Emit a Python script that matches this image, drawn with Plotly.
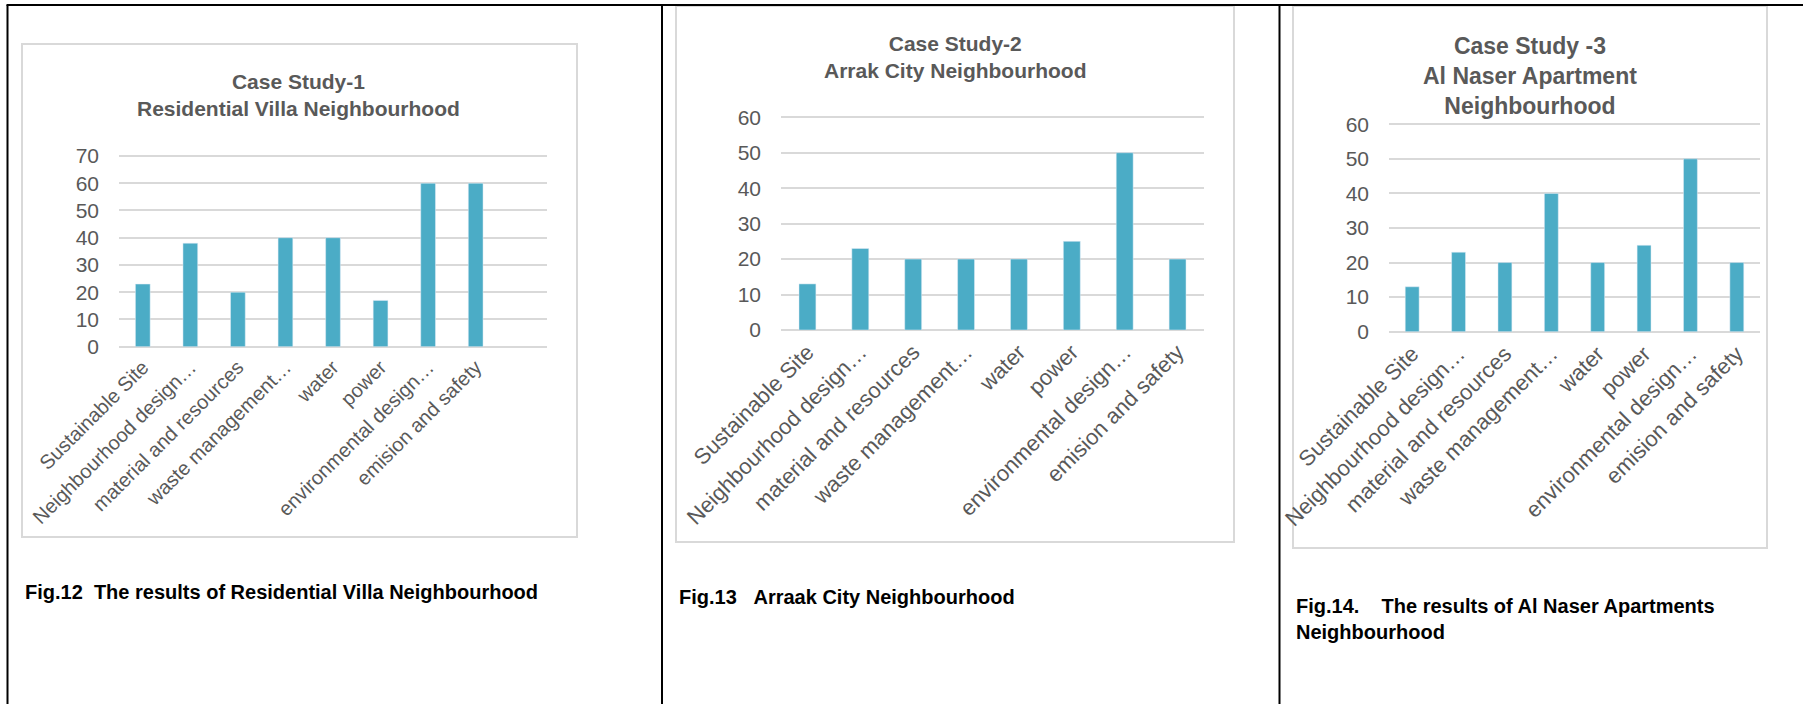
import plotly.graph_objects as go

W, H = 1803, 704

categories = ["Sustainable Site", "Neighbourhood design…", "material and resources",
              "waste management…", "water", "power", "environmental design…",
              "emision and safety"]
# case study 1 chart has an empty ninth slot
categories_cs1 = categories + [" "]

values_cs1 = [23, 38, 20, 40, 40, 17, 60, 60]
values_cs2 = [13, 23, 20, 20, 20, 25, 50, 20]
values_cs3 = [13, 23, 20, 40, 20, 25, 50, 20]

titles = ["Case Study-1<br>Residential Villa Neighbourhood",
          "Case Study-2<br>Arrak City Neighbourhood",
          "Case Study -3<br>Al Naser Apartment<br>Neighbourhood"]
captions = ["Fig.12\u00a0\u00a0The results of Residential Villa Neighbourhood",
            "Fig.13\u00a0\u00a0\u00a0Arraak City Neighbourhood",
            "Fig.14.\u00a0\u00a0\u00a0\u00a0The results of Al Naser Apartments<br>Neighbourhood"]

BAR = "#4bacc6"
GRID = "#d9d9d9"
TXT = "#595959"
FONT = "Liberation Sans"


def px(x):
    return x / W


def py(y):
    return 1 - y / H


fig = go.Figure()

fig.add_trace(go.Bar(x=categories, y=values_cs1, marker_color=BAR, width=0.31,
                     xaxis="x", yaxis="y", showlegend=False))
fig.add_trace(go.Bar(x=categories, y=values_cs2, marker_color=BAR, width=0.32,
                     xaxis="x2", yaxis="y2", showlegend=False))
fig.add_trace(go.Bar(x=categories, y=values_cs3, marker_color=BAR, width=0.30,
                     xaxis="x3", yaxis="y3", showlegend=False))


def xax(domain, n, size, arr, anchor):
    return dict(domain=domain, type="category", categoryorder="array", categoryarray=arr,
                range=[-0.5, n - 0.5], tickangle=-45, showgrid=False, zeroline=False,
                showline=False, ticks="", tickfont=dict(family=FONT, size=size, color=TXT),
                ticklabelstandoff=4,
                fixedrange=True, automargin=False, anchor=anchor)


HEAD = 0.6  # extra headroom (in data units) so the top gridline is drawn


def yax(y_bottom, y_top, top, anchor):
    ppu = (y_bottom - y_top) / top
    domain = [py(y_bottom), py(y_top - HEAD * ppu)]
    return dict(domain=domain, range=[0, top + HEAD], dtick=10, showgrid=True, gridcolor=GRID,
                gridwidth=1.5, zeroline=True, zerolinecolor=GRID, zerolinewidth=1.5,
                showline=False, ticks="", ticklabelstandoff=19, anchor=anchor,
                automargin=False, fixedrange=True,
                tickfont=dict(family=FONT, size=21, color=TXT))


fig.update_layout(
    width=W, height=H, margin=dict(l=0, r=0, t=0, b=0, autoexpand=False),
    paper_bgcolor="white", plot_bgcolor="white",
    xaxis=xax([px(119), px(547)], 9, 20, categories_cs1, "y"),
    yaxis=yax(346.7, 156, 70, "x"),
    xaxis2=xax([px(781), px(1204)], 8, 22, categories, "y2"),
    yaxis2=yax(330, 117.3, 60, "x2"),
    xaxis3=xax([px(1389), px(1760)], 8, 22, categories, "y3"),
    yaxis3=yax(331.7, 124.3, 60, "x3"),
)

shapes = []
# chart boxes
for (x0, y0, x1, y1) in [(22, 44, 577, 537), (676, 6, 1234, 542), (1293, 6, 1767, 548)]:
    shapes.append(dict(type="rect", xref="paper", yref="paper", x0=px(x0), x1=px(x1),
                       y0=py(y1), y1=py(y0), line=dict(color=GRID, width=2),
                       fillcolor="rgba(0,0,0,0)", layer="below"))
# table borders
shapes.append(dict(type="line", xref="paper", yref="paper", x0=px(6.5), x1=1, y0=py(5), y1=py(5),
                   line=dict(color="black", width=2)))
for xv in [7.5, 662, 1279.5]:
    shapes.append(dict(type="line", xref="paper", yref="paper", x0=px(xv), x1=px(xv),
                       y0=0, y1=py(5), line=dict(color="black", width=2)))
fig.update_layout(shapes=shapes)

annotations = []
for text, cx, cy, size in zip(titles, [298.8, 955, 1530], [95, 56.9, 75.7], [21, 21, 23]):
    annotations.append(dict(text=f"<b>{text}</b>", xref="paper", yref="paper", x=px(cx), y=py(cy),
                            xanchor="center", yanchor="middle", showarrow=False, align="center",
                            font=dict(family=FONT, size=size, color=TXT)))
for text, lx, cy in zip(captions, [23, 677, 1294], [591.7, 596.7, 619]):
    annotations.append(dict(text=f"<b>{text}</b>", xref="paper", yref="paper", x=px(lx), y=py(cy),
                            xanchor="left", yanchor="middle", showarrow=False, align="left",
                            font=dict(family=FONT, size=20, color="black")))
fig.update_layout(annotations=annotations)

fig.write_html("out.html")
